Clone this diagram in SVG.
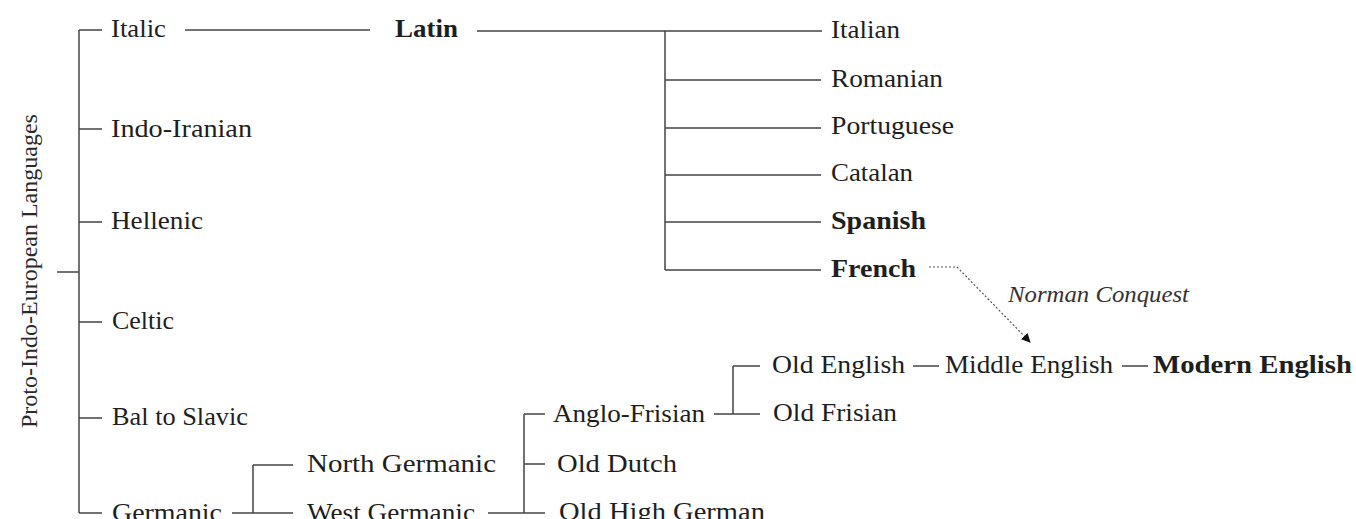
<svg xmlns="http://www.w3.org/2000/svg" width="1356" height="519" viewBox="0 0 1356 519">
  <style>
    text { font-family: "Liberation Serif", "Times New Roman", serif; font-size: 25px; fill: #1e1e1e; }
    .b { font-weight: bold; }
    .it { font-style: italic; font-size: 23px; fill: #333; }
    .root { font-size: 24px; fill: #2a2a2a; }
    .ln { stroke: #444; stroke-width: 1.5; fill: none; }
    .dot { stroke: #555; stroke-width: 1.2; stroke-dasharray: 2 2; fill: none; }
  </style>
  <defs>
    <marker id="arrow" viewBox="0 0 10 10" refX="9" refY="5" markerWidth="9" markerHeight="9" markerUnits="userSpaceOnUse" orient="auto">
      <path d="M0,0 L10,5 L0,10 z" fill="#111"/>
    </marker>
  </defs>
  <rect width="1356" height="519" fill="#fff"/>

  <!-- tree connectors -->
  <g id="connectors">
    <!-- root trunk -->
    <path class="ln" d="M57,272 H79 M79,30 V513 M79,30 H102 M79,129 H102 M79,222 H102 M79,322 H102 M79,418 H102 M79,513 H102"/>
    <!-- Italic to Latin, Latin to Romance -->
    <path class="ln" d="M185,30 H370 M477,31 H822 M665,31 V270 M665,80 H821 M665,128 H821 M665,175 H821 M665,222 H821 M665,270 H821"/>
    <!-- Germanic split -->
    <path class="ln" d="M232,513 H293 M253,465 V513 M253,465 H293"/>
    <!-- West Germanic split -->
    <path class="ln" d="M488,513 H545 M524,414 V513 M524,414 H545 M524,464 H545"/>
    <!-- Anglo-Frisian split -->
    <path class="ln" d="M714,414 H760 M733,366 V414 M733,366 H760"/>
    <!-- English chain -->
    <path class="ln" d="M913,366 H939 M1122,366 H1148"/>
    <!-- French influence -->
    <path class="dot" d="M929,267 H957 L1030,342" marker-end="url(#arrow)"/>
  </g>

  <g id="n-root"><text class="root" transform="translate(37,428) rotate(-90)">Proto-Indo-European Languages</text></g>

  <g id="n-italic"><text x="111" y="37" textLength="55" lengthAdjust="spacingAndGlyphs">Italic</text></g>
  <g id="n-indo-iranian"><text x="111" y="137" textLength="141" lengthAdjust="spacingAndGlyphs">Indo-Iranian</text></g>
  <g id="n-hellenic"><text x="111" y="229" textLength="92" lengthAdjust="spacingAndGlyphs">Hellenic</text></g>
  <g id="n-celtic"><text x="112" y="329" textLength="62" lengthAdjust="spacingAndGlyphs">Celtic</text></g>
  <g id="n-balto-slavic"><text x="112" y="425" textLength="136" lengthAdjust="spacingAndGlyphs">Bal to Slavic</text></g>
  <g id="n-germanic"><text x="112" y="521" textLength="110" lengthAdjust="spacingAndGlyphs">Germanic</text></g>

  <g id="n-latin"><text class="b" x="395" y="37" textLength="63" lengthAdjust="spacingAndGlyphs">Latin</text></g>

  <g id="n-italian"><text x="831" y="38" textLength="69" lengthAdjust="spacingAndGlyphs">Italian</text></g>
  <g id="n-romanian"><text x="831" y="87" textLength="112" lengthAdjust="spacingAndGlyphs">Romanian</text></g>
  <g id="n-portuguese"><text x="831" y="134" textLength="123" lengthAdjust="spacingAndGlyphs">Portuguese</text></g>
  <g id="n-catalan"><text x="831" y="181" textLength="82" lengthAdjust="spacingAndGlyphs">Catalan</text></g>
  <g id="n-spanish"><text class="b" x="831" y="229" textLength="95" lengthAdjust="spacingAndGlyphs">Spanish</text></g>
  <g id="n-french"><text class="b" x="831" y="277" textLength="85" lengthAdjust="spacingAndGlyphs">French</text></g>

  <g id="l-norman"><text class="it" x="1008" y="302" textLength="181" lengthAdjust="spacingAndGlyphs">Norman Conquest</text></g>

  <g id="n-north-germanic"><text x="307" y="472" textLength="189" lengthAdjust="spacingAndGlyphs">North Germanic</text></g>
  <g id="n-west-germanic"><text x="307" y="521" textLength="168" lengthAdjust="spacingAndGlyphs">West Germanic</text></g>

  <g id="n-anglo-frisian"><text x="553" y="422" textLength="152" lengthAdjust="spacingAndGlyphs">Anglo-Frisian</text></g>
  <g id="n-old-dutch"><text x="557" y="472" textLength="120" lengthAdjust="spacingAndGlyphs">Old Dutch</text></g>
  <g id="n-old-high-german"><text x="559" y="520" textLength="206" lengthAdjust="spacingAndGlyphs">Old High German</text></g>

  <g id="n-old-english"><text x="772" y="373" textLength="133" lengthAdjust="spacingAndGlyphs">Old English</text></g>
  <g id="n-old-frisian"><text x="773" y="421" textLength="124" lengthAdjust="spacingAndGlyphs">Old Frisian</text></g>
  <g id="n-middle-english"><text x="945" y="373" textLength="168" lengthAdjust="spacingAndGlyphs">Middle English</text></g>
  <g id="n-modern-english"><text class="b" x="1153" y="373" textLength="199" lengthAdjust="spacingAndGlyphs">Modern English</text></g>
</svg>
